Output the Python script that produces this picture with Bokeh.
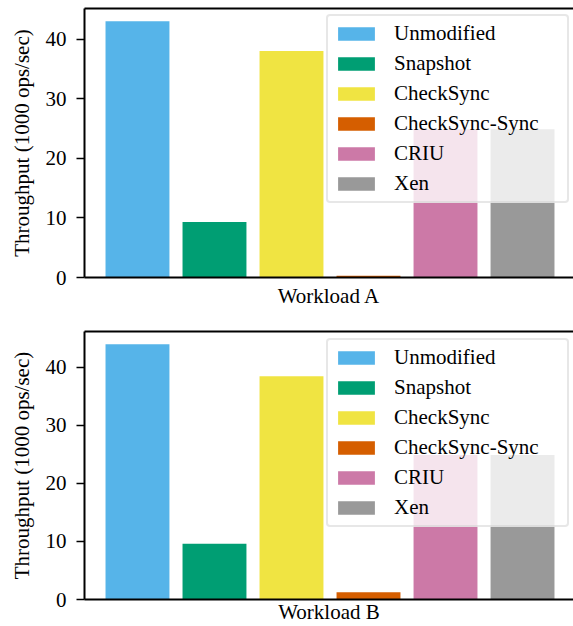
from bokeh.plotting import figure
from bokeh.models import Range1d, LinearAxis, FixedTicker, Legend, LegendItem, ColumnDataSource
from bokeh.layouts import column
from bokeh.embed import file_html
from bokeh.resources import INLINE

systems = ["Unmodified", "Snapshot", "CheckSync", "CheckSync-Sync", "CRIU", "Xen"]
colors = ["#56B4E9", "#009E73", "#F0E442", "#D55E00", "#CC79A7", "#999999"]
workload_a = [43.0, 9.3, 38.0, 0.3, 24.9, 24.9]
workload_b = [44.0, 9.6, 38.5, 1.25, 24.9, 24.9]
workload_names = ["Workload A", "Workload B"]
y_ticks = [0, 10, 20, 30, 40]
y_label = "Throughput (1000 ops/sec)"

FONT = "Liberation Serif"
FS = "21px"
X_START, X_END = -0.688, 5.662


def make(values, xlabel, height, border_top, border_bottom, legend_y, xlabel_standoff):
    p = figure(width=573, height=height, output_backend="svg", toolbar_location=None,
               x_range=Range1d(X_START, X_END), y_range=Range1d(0, max(values) * 1.05),
               min_border_left=84, min_border_right=0,
               min_border_top=border_top, min_border_bottom=border_bottom,
               x_axis_location=None, y_axis_location=None)
    p.outline_line_color = None
    p.grid.visible = False
    p.background_fill_color = "white"
    p.border_fill_color = "white"

    yaxis = LinearAxis(ticker=FixedTicker(ticks=y_ticks), axis_label=y_label)
    yaxis.axis_line_width = 2
    yaxis.major_tick_line_width = 1.5
    yaxis.major_tick_out = 8
    yaxis.major_tick_in = 0
    yaxis.minor_tick_out = 0
    yaxis.minor_tick_in = 0
    yaxis.major_label_standoff = 10
    yaxis.major_label_text_font = FONT
    yaxis.major_label_text_font_size = FS
    yaxis.major_label_text_color = "black"
    yaxis.axis_label_standoff = 9
    yaxis.axis_label_text_font = FONT
    yaxis.axis_label_text_font_size = FS
    yaxis.axis_label_text_font_style = "normal"
    yaxis.axis_label_text_color = "black"
    p.add_layout(yaxis, "left")

    xaxis = LinearAxis(ticker=FixedTicker(ticks=[]), axis_label=xlabel)
    xaxis.axis_line_width = 2
    xaxis.major_tick_out = 0
    xaxis.major_tick_in = 0
    xaxis.minor_tick_out = 0
    xaxis.minor_tick_in = 0
    xaxis.major_label_standoff = 0
    xaxis.axis_label_standoff = xlabel_standoff
    xaxis.axis_label_text_font = FONT
    xaxis.axis_label_text_font_size = FS
    xaxis.axis_label_text_font_style = "normal"
    xaxis.axis_label_text_color = "black"
    p.add_layout(xaxis, "below")

    top = LinearAxis(ticker=FixedTicker(ticks=[]))
    top.axis_line_width = 2
    top.major_tick_out = 0
    top.major_tick_in = 0
    top.minor_tick_out = 0
    top.minor_tick_in = 0
    top.major_label_standoff = 0
    p.add_layout(top, "above")

    src = ColumnDataSource(dict(x=list(range(len(systems))), top=values, color=colors, name=systems))
    r = p.vbar(x="x", top="top", width=0.83, fill_color="color", line_color=None, source=src)

    items = [LegendItem(label=systems[i], renderers=[r], index=i) for i in range(len(systems))]
    legend = Legend(items=items, location=(242, legend_y),
                    glyph_width=46, glyph_height=17, label_height=20, label_width=168,
                    spacing=5, padding=5, label_standoff=15, margin=0,
                    label_text_font=FONT, label_text_font_size=FS, label_text_color="black",
                    border_line_color="#d0d0d0", border_line_width=2, border_radius=4,
                    background_fill_color="white", background_fill_alpha=0.8)
    p.add_layout(legend)
    return p


p1 = make(workload_a, workload_names[0], 318, 8, 41, 74, 6)
p2 = make(workload_b, workload_names[1], 308, 13, 27, 72, 0)

layout = column(p1, p2, spacing=0)
open("out.html", "w").write(file_html(layout, INLINE))
